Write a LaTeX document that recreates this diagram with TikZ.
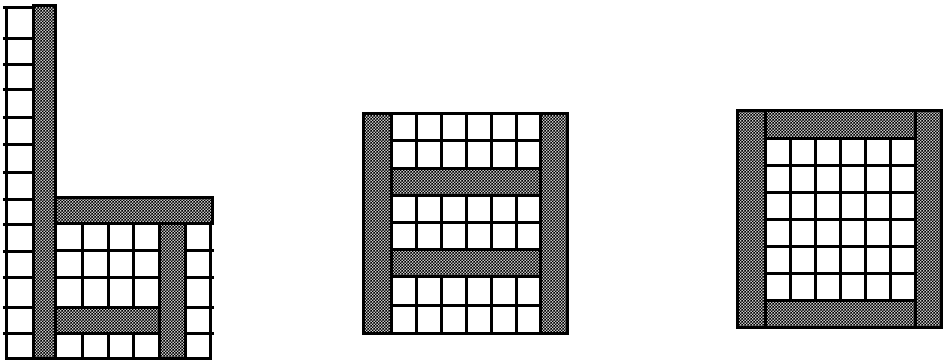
\documentclass[tikz,border=0pt]{standalone}
\usetikzlibrary{patterns}
\pgfdeclarepatternformonly{checkerfill}{\pgfqpoint{0pt}{0pt}}{\pgfqpoint{3.4pt}{3.4pt}}{\pgfqpoint{3.4pt}{3.4pt}}{%
  \pgfpathrectangle{\pgfqpoint{0pt}{0pt}}{\pgfqpoint{1.7pt}{1.7pt}}%
  \pgfpathrectangle{\pgfqpoint{1.7pt}{1.7pt}}{\pgfqpoint{1.7pt}{1.7pt}}%
  \pgfusepath{fill}}
\tikzset{
  gridline/.style={line width=3pt, line cap=rect},
  strip/.style={line width=3pt, fill=black!22, postaction={pattern=checkerfill, pattern color=black}},
}
\begin{document}
\begin{tikzpicture}[x=1pt,y=-1pt]
\useasboundingbox (0,0) rectangle (943,364);
% ---------- Figure 1 ----------
% left column of cells
\draw[gridline] (6,7) rectangle (33,358);
\foreach \yy in {38,64,89,117,144,172,199,224,251,277,307,333}
  \draw[gridline] (4,\yy) -- (33,\yy);
\draw[gridline] (4,7) -- (33,7);
% inner grid
\draw[gridline] (55,223) rectangle (159,307);
\foreach \xx in {82,108,133} \draw[gridline] (\xx,223) -- (\xx,307);
\foreach \yy in {250,277} \draw[gridline] (55,\yy) -- (159,\yy);
% bottom row
\draw[gridline] (55,333) rectangle (159,358);
\foreach \xx in {82,108,133} \draw[gridline] (\xx,333) -- (\xx,358);
% right column
\draw[gridline] (185,223) rectangle (210,358);
\foreach \yy in {250,277,307,333} \draw[gridline] (185,\yy) -- (212,\yy);
% shaded strips
\draw[strip] (33,5) rectangle (55,358);
\draw[strip] (55,197) rectangle (212,223);
\draw[strip] (159,223) rectangle (185,358);
\draw[strip] (55,307) rectangle (159,333);
% ---------- Figure 2 ----------
\draw[gridline] (391,113) rectangle (540,333);
\foreach \xx in {416,441,466,491,516} \draw[gridline] (\xx,113) -- (\xx,333);
\foreach \yy in {140,222,305} \draw[gridline] (391,\yy) -- (540,\yy);
\draw[strip] (391,168) rectangle (540,195);
\draw[strip] (391,249) rectangle (540,276);
\draw[strip] (363,113) rectangle (391,333);
\draw[strip] (540,113) rectangle (567,333);
% ---------- Figure 3 ----------
\draw[gridline] (765,138) rectangle (915,300);
\foreach \xx in {790,815,840,865,890} \draw[gridline] (\xx,138) -- (\xx,300);
\foreach \yy in {165,192,219,246,273} \draw[gridline] (765,\yy) -- (915,\yy);
\draw[strip] (765,110) rectangle (915,138);
\draw[strip] (765,300) rectangle (915,327);
\draw[strip] (737,110) rectangle (765,327);
\draw[strip] (915,110) rectangle (941,327);
\end{tikzpicture}
\end{document}
